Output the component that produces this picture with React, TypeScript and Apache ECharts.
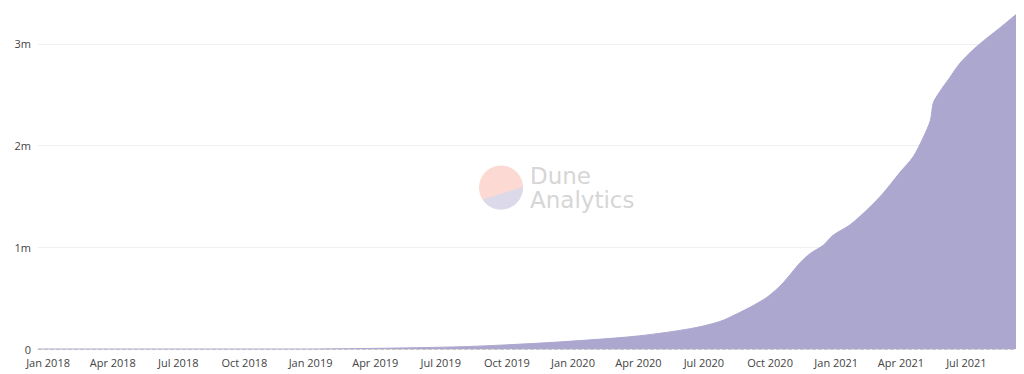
import React, { useEffect, useRef } from "react";
import * as echarts from "echarts";

const dates: string[] = [
  "2017-12-18", "2018-06-01", "2018-12-17", "2019-02-11", "2019-05-05", "2019-08-10",
  "2019-11-16", "2020-01-25", "2020-04-03", "2020-06-12", "2020-07-23", "2020-08-20",
  "2020-09-03", "2020-09-27", "2020-10-19", "2020-11-12", "2020-11-26", "2020-12-14",
  "2020-12-28", "2021-01-20", "2021-02-13", "2021-03-07", "2021-03-31", "2021-04-18",
  "2021-05-02", "2021-05-12", "2021-05-16", "2021-05-25", "2021-06-08", "2021-06-22",
  "2021-07-10", "2021-07-30", "2021-08-17", "2021-09-08",
];
const users: number[] = [
  0, 0, 0, 2000, 10000, 25000,
  58000, 90000, 130000, 200000, 270000, 360000,
  410000, 510000, 650000, 850000, 940000, 1020000,
  1120000, 1220000, 1370000, 1530000, 1740000, 1890000,
  2080000, 2250000, 2420000, 2530000, 2670000, 2810000,
  2940000, 3060000, 3160000, 3290000,
];
const yTicks: number[] = [0, 1000000, 2000000, 3000000];
const monthNames: string[] = ["Jan", "Feb", "Mar", "Apr", "May", "Jun", "Jul", "Aug", "Sep", "Oct", "Nov", "Dec"];

const DAY = 86400000;
const logoPath = "M43.99 21.5 A22 22 0 0 1 3.61 34.08 Z";

export default function App() {
  const ref = useRef<HTMLDivElement>(null);
  useEffect(() => {
    document.body.style.margin = "0";
    if (!ref.current) return;
    try {
      echarts.graphic.registerShape("duneSeg", echarts.graphic.extendPath(logoPath, {}));
    } catch (e) {}
    const chart = echarts.init(ref.current, null, { renderer: "svg" });
    const seriesData = dates.map((d, i) => [d, users[i]]);
    chart.setOption({
      animation: false,
      grid: { left: 38, right: 8, top: 10, bottom: 25 },
      xAxis: {
        type: "time",
        min: new Date(2017, 11, 18).getTime(),
        max: new Date(2021, 8, 8).getTime(),
        splitNumber: 15,
        minInterval: 89 * DAY,
        maxInterval: 92 * DAY,
        axisLine: { show: true, lineStyle: { color: "#c8c8c8", type: "dashed", width: 1 } },
        axisTick: { show: false },
        splitLine: { show: false },
        axisLabel: {
          color: "#444",
          fontSize: 11,
          lineHeight: 11,
          fontFamily: "Open Sans",
          margin: 8,
          hideOverlap: false,
          formatter: (v: number) => {
            const d = new Date(v);
            return monthNames[d.getMonth()] + " " + d.getFullYear();
          },
        },
      },
      yAxis: {
        type: "value",
        min: 0,
        max: 3333333,
        interval: 1000000,
        axisLine: { show: false },
        axisTick: { show: false },
        splitLine: { show: true, showMaxLine: false, showMinLine: false, lineStyle: { color: "#efefef", width: 1 } },
        axisLabel: {
          color: "#444",
          fontSize: 11,
          lineHeight: 10,
          fontFamily: "Open Sans",
          margin: 7,
          padding: [0, 0, 2, 0],
          showMaxLabel: false,
          formatter: (v: number) => {
            if (!yTicks.includes(v)) return "";
            return v === 0 ? "0" : v / 1000000 + "m";
          },
        },
      },
      graphic: [
        { type: "circle", shape: { cx: 501, cy: 187.5, r: 22 }, style: { fill: "#fdd9d3" }, z: 100 },
        { type: "duneSeg", x: 479, y: 165.5, style: { fill: "#dcdaea" }, z: 101 },
        {
          type: "text", x: 530, y: 164,
          style: { text: "Dune\nAnalytics", fontSize: 23, lineHeight: 24, fontFamily: "DejaVu Sans", fill: "#d6d6d6" }, z: 100,
        },
      ],
      series: [
        {
          type: "line",
          data: seriesData,
          showSymbol: false,
          smooth: 0.3,
          lineStyle: { width: 1, color: "#aca7cf" },
          areaStyle: { color: "#aca7cf", opacity: 1 },
          z: 2,
        },
      ],
    });
    return () => chart.dispose();
  }, []);
  return <div ref={ref} style={{ width: 1024, height: 374 }} />;
}
